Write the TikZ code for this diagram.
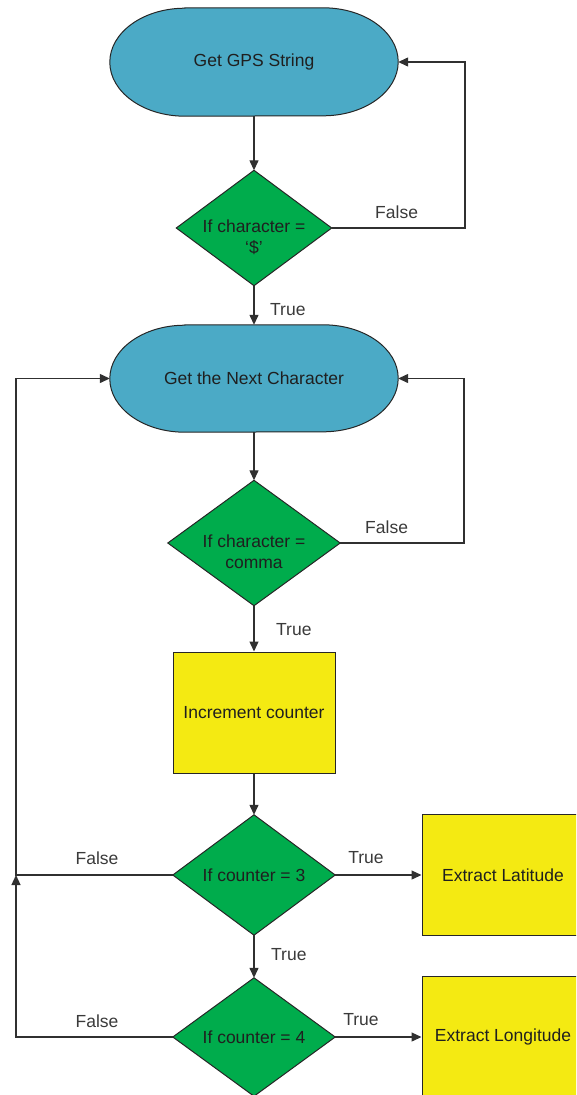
\documentclass[tikz,border=0pt]{standalone}
\usepackage{fontspec}
\setmainfont{Liberation Sans}
\usetikzlibrary{arrows.meta,backgrounds}
\definecolor{termblue}{HTML}{4BAAC6}
\definecolor{decgreen}{HTML}{00AC4C}
\definecolor{procyellow}{HTML}{F4EA12}
\definecolor{linegray}{HTML}{303030}
\definecolor{labelgray}{HTML}{3A3A3A}

\begin{document}
\begin{tikzpicture}[x=1pt,y=-1pt,
  font=\fontsize{17.5}{21}\selectfont,
  box/.style={inner sep=0pt, align=center, text=black!88},
  procbox/.style={box, draw=black!85, line width=1pt, fill=procyellow,
                  minimum width=162pt, minimum height=121pt},
  shapeline/.style={draw=black!85, line width=1pt},
  flow/.style={draw=linegray, line width=1.3pt, -{Triangle[length=10pt,width=9pt]}},
  lbl/.style={text=labelgray, inner sep=0pt}]
\useasboundingbox (0,0) rectangle (576,1095);
\clip (0,0) rectangle (576,1095);

% terminators, decisions and process boxes
\node[box, minimum width=288pt, minimum height=108pt] (t1) at (254,62) {Get GPS String};
\node[box, minimum width=155pt, minimum height=115pt] (d1) at (254,228) {};
\node[box] (d1txt) at ([yshift=-9pt]d1.center) {If character =\\‘\$’};
\node[box, minimum width=288pt, minimum height=107pt] (t2) at (254,378.5) {Get the Next Character};
\node[box, minimum width=172pt, minimum height=125pt] (d2) at (254,543) {};
\node[box] (d2txt) at ([yshift=-9pt]d2.center) {If character =\\comma};
\node[procbox] (inc) at (254,712.5) {Increment counter};
\node[box, minimum width=162pt, minimum height=120pt] (d3) at (254,875) {If counter = 3};
\node[box, minimum width=162pt, minimum height=118pt] (d4) at (254,1037) {If counter = 4};
\node[procbox] (lat) at (503,875) {Extract Latitude};
\node[procbox] (lon) at (503,1037) {Extract Longitude};

\begin{scope}[on background layer]
  \foreach \n/\ry in {t1/54pt,t2/53.5pt}{
    \path[shapeline, fill=termblue]
      ([xshift=75pt]\n.north west) -- ([xshift=-75pt]\n.north east)
      arc[start angle=90,end angle=-90,x radius=75pt,y radius=\ry]
      -- ([xshift=75pt]\n.south west)
      arc[start angle=270,end angle=90,x radius=75pt,y radius=\ry] -- cycle;
  }
  \foreach \n in {d1,d2,d3,d4}{
    \path[shapeline, fill=decgreen]
      (\n.north) -- (\n.east) -- (\n.south) -- (\n.west) -- cycle;
  }
\end{scope}

% corner points of the loop-back connectors
\coordinate (r1) at (465,228);
\coordinate (r2) at (464,543);
\coordinate (jl) at (16,875);

% connectors
\draw[flow] (t1.south) -- (d1.north);
\draw[flow] (d1.south) -- (t2.north);
\draw[flow] (d1.east) -- (r1) |- (t1.east);
\draw[flow] (t2.south) -- (d2.north);
\draw[flow] (d2.east) -- (r2) |- (t2.east);
\draw[flow] (d2.south) -- (inc.north);
\draw[flow] (inc.south) -- (d3.north);
\draw[flow] (d3.west) -- (jl) |- (t2.west);
\draw[flow] (d4.west) -| (jl);
\draw[flow] (d3.east) -- (lat.west);
\draw[flow] (d3.south) -- (d4.north);
\draw[flow] (d4.east) -- (lon.west);

% branch labels
\node[lbl, anchor=west] (l1) at (375,212) {False};
\node[lbl, anchor=west] (l2) at (270,310) {True};
\node[lbl, anchor=west] (l3) at (365,527) {False};
\node[lbl, anchor=west] (l4) at (276,630) {True};
\node[lbl] (l5) at (97,858) {False};
\node[lbl] (l6) at (366,858) {True};
\node[lbl, anchor=west] (l7) at (271,955) {True};
\node[lbl] (l8) at (97,1021) {False};
\node[lbl] (l9) at (361,1020) {True};
\end{tikzpicture}
\end{document}
